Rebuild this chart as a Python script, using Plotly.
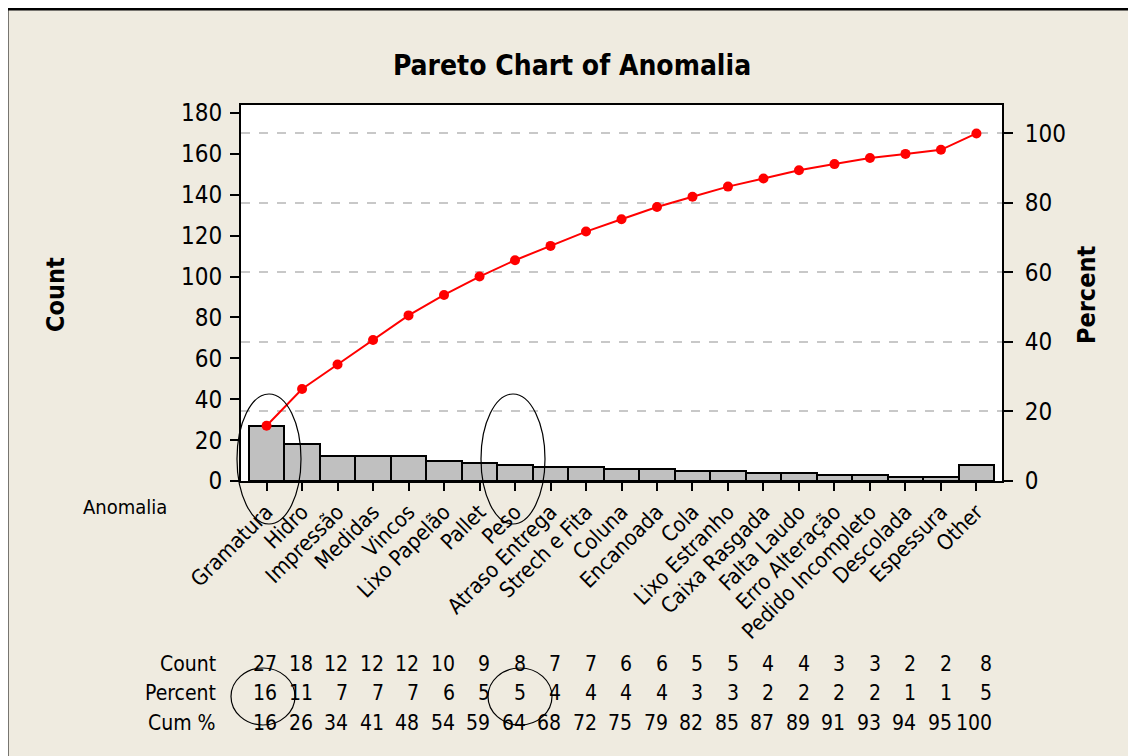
import numpy as np
import plotly.graph_objects as go

# Pareto data
categories = ["Gramatura", "Hidro", "Impressão", "Medidas", "Vincos", "Lixo Papelão",
              "Pallet", "Peso", "Atraso Entrega", "Strech e Fita", "Coluna", "Encanoada",
              "Cola", "Lixo Estranho", "Caixa Rasgada", "Falta Laudo", "Erro Alteração",
              "Pedido Incompleto", "Descolada", "Espessura", "Other"]
counts = [27, 18, 12, 12, 12, 10, 9, 8, 7, 7, 6, 6, 5, 5, 4, 4, 3, 3, 2, 2, 8]
percent = [16, 11, 7, 7, 7, 6, 5, 5, 4, 4, 4, 4, 3, 3, 2, 2, 2, 2, 1, 1, 5]
cum_pct = [16, 26, 34, 41, 48, 54, 59, 64, 68, 72, 75, 79, 82, 85, 87, 89, 91, 93, 94, 95, 100]

BG = "#EFEBE0"
FONT = "DejaVu Sans Condensed, DejaVu Sans, sans-serif"

total = sum(counts)
cum_line = (np.cumsum(counts) / total * 100).tolist()
xs = list(range(len(categories)))

# page body has an 8px margin, so screen positions are shifted by OFF
OFF = 8
W, H = 1136, 756
L, R, T, B = 241, 1002, 105, 481   # plot box on screen


def px(x):
    return (x - L) / (R - L)


def py(y):
    return (B - y) / (B - T)


fig = go.Figure()
fig.add_trace(go.Bar(
    x=xs, y=counts, width=1,
    marker=dict(color="#C0C0C0", line=dict(color="black", width=2)),
    showlegend=False,
))
fig.add_trace(go.Scatter(
    x=xs, y=cum_line, yaxis="y2", mode="lines+markers",
    line=dict(color="#FF0000", width=2),
    marker=dict(color="#FF0000", size=10),
    showlegend=False,
))

y_top = 180 + (113 - T) / ((B - 113) / 180)

fig.update_layout(
    width=W, height=H,
    paper_bgcolor=BG, plot_bgcolor="white",
    font=dict(family=FONT, color="black", size=20),
    margin=dict(l=L - OFF, r=W - (R - OFF), t=T - OFF, b=H - (B - OFF)),
    title=dict(text="<b>Pareto Chart of Anomalia</b>", x=(572 - OFF) / W, xanchor="center",
               y=1 - (65 - OFF) / H, yanchor="middle", font=dict(size=28, family=FONT)),
    xaxis=dict(range=[-0.72, 20.72], tickvals=xs, ticktext=categories, tickangle=-45,
               ticks="outside", ticklen=8, tickwidth=2, tickcolor="black",
               showline=True, linewidth=2, linecolor="black", mirror=True,
               showgrid=False, zeroline=False, tickfont=dict(size=21.5)),
    yaxis=dict(range=[0, y_top], tickvals=list(range(0, 181, 20)),
               ticks="outside", ticklen=9, tickwidth=2, tickcolor="black",
               showline=True, linewidth=2, linecolor="black",
               showgrid=False, zeroline=False, tickfont=dict(size=24),
               ticklabelstandoff=3),
    yaxis2=dict(range=[0, y_top / total * 100], tickvals=list(range(0, 101, 20)),
                overlaying="y", side="right",
                ticks="outside", ticklen=9, tickwidth=2, tickcolor="black",
                showline=True, linewidth=2, linecolor="black",
                showgrid=True, gridcolor="#C8C8C8", gridwidth=1.5, griddash="dash",
                zeroline=False, tickfont=dict(size=24), ticklabelstandoff=7),
    bargap=0,
)

ann = []
ann.append(dict(text="<b>Count</b>", x=px(55), y=py(295), xref="paper", yref="paper",
                xanchor="center", yanchor="middle",
                textangle=-90, showarrow=False, font=dict(size=25)))
ann.append(dict(text="<b>Percent</b>", x=px(1086), y=py(295), xref="paper", yref="paper",
                xanchor="center", yanchor="middle",
                textangle=-90, showarrow=False, font=dict(size=25)))
ann.append(dict(text="Anomalia", x=px(169), y=py(507), xref="paper", yref="paper",
                xanchor="right", yanchor="middle", showarrow=False, font=dict(size=20)))

# table below the chart, numbers right-aligned just right of each bar centre
col_right = [i + 0.36 for i in xs]
col_right[-1] += 0.13   # the "Other" column sits a bit wider
rows = [("Count", counts, 664), ("Percent", percent, 693), ("Cum %", cum_pct, 723)]
for label, vals, yy in rows:
    ann.append(dict(text=label, x=px(218), y=py(yy), xref="paper", yref="paper",
                    xanchor="right", yanchor="middle", showarrow=False, font=dict(size=21)))
    for xr, v in zip(col_right, vals):
        ann.append(dict(text=str(v), x=xr, y=py(yy), xref="x", yref="paper",
                        xanchor="right", yanchor="middle", showarrow=False,
                        font=dict(size=21)))
fig.update_layout(annotations=ann)

# hand-drawn circles and outer frame
shapes = []
for x0, x1, y0, y1 in [(237, 301, 394, 524), (481, 545, 394, 524),
                       (231, 295, 668, 725), (488, 552, 668, 725)]:
    shapes.append(dict(type="circle", xref="paper", yref="paper",
                       x0=px(x0), x1=px(x1), y0=py(y1), y1=py(y0),
                       line=dict(color="black", width=1.2)))
shapes.append(dict(type="line", xref="paper", yref="paper", x0=px(7), x1=px(1150),
                   y0=py(9), y1=py(9), line=dict(color="black", width=3)))
shapes.append(dict(type="line", xref="paper", yref="paper", x0=px(7), x1=px(7),
                   y0=py(9), y1=py(770), line=dict(color="black", width=3)))
fig.update_layout(shapes=shapes)

fig.write_html("out.html")
